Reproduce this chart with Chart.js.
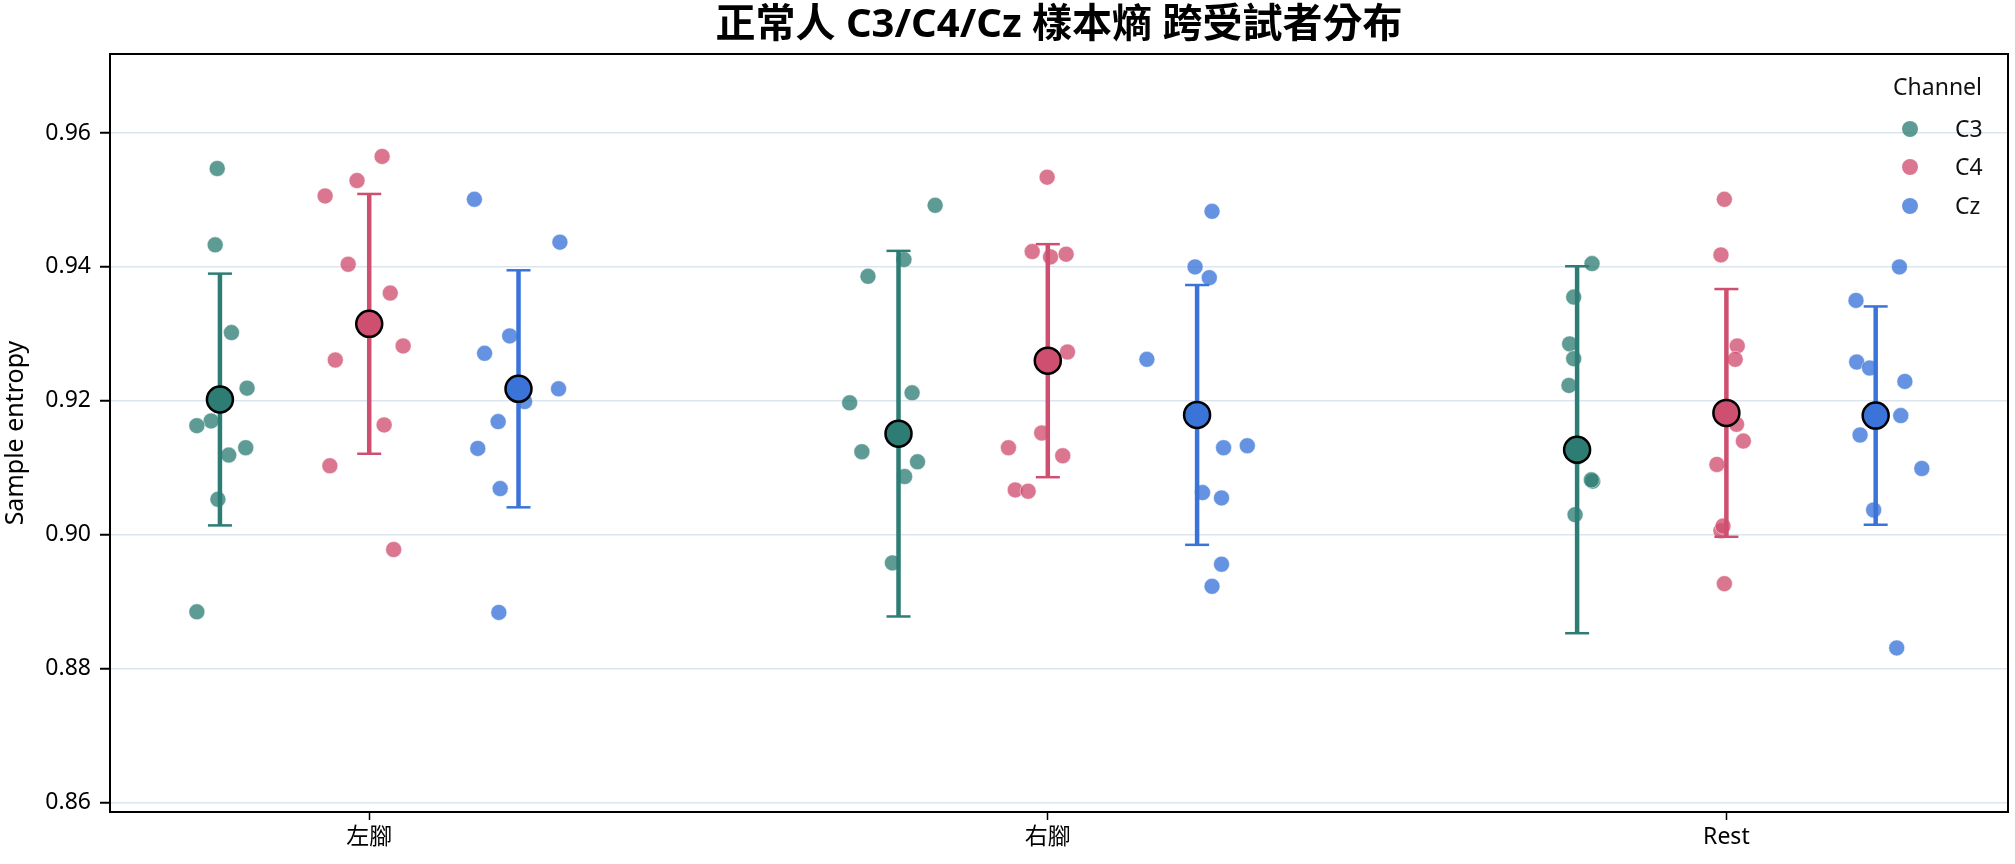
<!DOCTYPE HTML>
<html>
<head>
  <meta charset="utf-8">
  <script src="https://cdn.jsdelivr.net/npm/chart.js"></script>
  <style>
    html, body { margin: 0; padding: 0; background: #fff; overflow: hidden; }
    canvas { display: block; }
  </style>
  <script>
    // Categories and channels
    const categories = ['左腳', '右腳', 'Rest'];
    const channels = ['C3', 'C4', 'Cz'];

    // Per-subject sample entropy (one row per category)
    const c3Values = [
      [0.9547, 0.9433, 0.9302, 0.9219, 0.9170, 0.9163, 0.9130, 0.9119, 0.9053, 0.8885],
      [0.9492, 0.9411, 0.9386, 0.9212, 0.9197, 0.9124, 0.9109, 0.9087, 0.8958, 0.8530],
      [0.9405, 0.9355, 0.9285, 0.9263, 0.9223, 0.9116, 0.9080, 0.9082, 0.9030, 0.8433]
    ];
    const c4Values = [
      [0.9565, 0.9529, 0.9506, 0.9404, 0.9361, 0.9282, 0.9261, 0.9164, 0.9103, 0.8978],
      [0.9534, 0.9423, 0.9415, 0.9419, 0.9273, 0.9152, 0.9130, 0.9118, 0.9067, 0.9065],
      [0.9501, 0.9418, 0.9282, 0.9262, 0.9165, 0.9140, 0.9105, 0.9006, 0.9013, 0.8927]
    ];
    const czValues = [
      [0.9501, 0.9437, 0.9297, 0.9271, 0.9218, 0.9199, 0.9169, 0.9129, 0.9069, 0.8884],
      [0.9483, 0.9400, 0.9384, 0.9262, 0.9130, 0.9133, 0.9063, 0.9055, 0.8956, 0.8923],
      [0.9400, 0.9350, 0.9258, 0.9249, 0.9229, 0.9178, 0.9149, 0.9099, 0.9037, 0.8831]
    ];

    // Strip jitter of each subject (category units)
    const c3Jitter = [
      [-0.004, -0.007, 0.017, 0.040, -0.013, -0.034, 0.038, 0.013, -0.003, -0.034],
      [0.054, 0.008, -0.045, 0.020, -0.072, -0.054, 0.028, 0.009, -0.009, 0.000],
      [0.022, -0.005, -0.011, -0.005, -0.012, 0.000, 0.023, 0.021, -0.003, 0.000]
    ];
    const c4Jitter = [
      [0.019, -0.018, -0.065, -0.031, 0.031, 0.050, -0.050, 0.022, -0.058, 0.036],
      [-0.001, -0.023, 0.004, 0.027, 0.029, -0.009, -0.058, 0.022, -0.048, -0.029],
      [-0.003, -0.008, 0.016, 0.013, 0.015, 0.025, -0.014, -0.008, -0.005, -0.003]
    ];
    const czJitter = [
      [-0.065, 0.061, -0.013, -0.050, 0.059, 0.009, -0.030, -0.060, -0.027, -0.029],
      [0.022, -0.003, 0.018, -0.074, 0.039, 0.074, 0.008, 0.036, 0.036, 0.022],
      [0.035, -0.029, -0.028, -0.009, 0.043, 0.037, -0.023, 0.068, -0.003, 0.031]
    ];

    // Mean and SD per category
    const c3Mean = [0.9202, 0.9151, 0.9127];
    const c3Sd = [0.0188, 0.0273, 0.0274];
    const c4Mean = [0.9315, 0.9260, 0.9182];
    const c4Sd = [0.0194, 0.0174, 0.0185];
    const czMean = [0.9218, 0.9179, 0.9178];
    const czSd = [0.0177, 0.0194, 0.0163];

    const yTicks = [0.86, 0.88, 0.90, 0.92, 0.94, 0.96];

    const FONT = "'Noto Sans', 'Noto Sans CJK TC', sans-serif";
    const dodge = 0.22;
    const lineColors = ['#2e7d74', '#cf4f70', '#3b74d9'];
    const dotColors = ['rgba(46,125,116,0.77)', 'rgba(207,79,112,0.78)', 'rgba(59,116,217,0.78)'];

    function buildDatasets() {
      const values = [c3Values, c4Values, czValues];
      const jitter = [c3Jitter, c4Jitter, czJitter];
      const means = [c3Mean, c4Mean, czMean];
      const sds = [c3Sd, c4Sd, czSd];
      const sets = [];

      channels.forEach((ch, i) => {
        const off = (i - 1) * dodge;
        const pts = [], bars = [], caps = [], mids = [];
        categories.forEach((c, k) => {
          const cx = k + off;
          values[i][k].forEach((v, j) => pts.push({x: cx + jitter[i][k][j], y: v}));
          const lo = means[i][k] - sds[i][k], hi = means[i][k] + sds[i][k];
          bars.push({x: cx, y: lo}, {x: cx, y: hi}, {x: cx, y: null});
          caps.push({x: cx, y: lo}, {x: cx, y: hi});
          mids.push({x: cx, y: means[i][k]});
        });

        sets.push({
          label: ch, data: pts, order: 3,
          pointRadius: 8, backgroundColor: dotColors[i],
          borderColor: 'rgba(255,255,255,0.8)', borderWidth: 0.6, clip: 0
        });
        sets.push({
          label: ch + ' sd', data: bars, order: 2, showLine: true, spanGaps: false,
          pointRadius: 0, borderColor: lineColors[i], borderWidth: 4.5, clip: 0
        });
        sets.push({
          label: ch + ' cap', data: caps, order: 2, pointStyle: 'line',
          pointRadius: 12, borderColor: lineColors[i], borderWidth: 2.5, clip: 0
        });
        sets.push({
          label: ch + ' mean', data: mids, order: 1,
          pointRadius: 13, backgroundColor: lineColors[i],
          borderColor: '#000', borderWidth: 2.5, clip: 0
        });
      });
      return sets;
    }

    // Frame around plot area and the channel legend
    const framePlugin = {
      id: 'frame',
      afterDraw(chart) {
        const ctx = chart.ctx, a = chart.chartArea;
        ctx.save();
        ctx.strokeStyle = '#000';
        ctx.lineWidth = 2;
        ctx.strokeRect(a.left, a.top, a.right - a.left, a.bottom - a.top);

        // legend
        ctx.fillStyle = '#111';
        ctx.font = '23px ' + FONT;
        ctx.textBaseline = 'middle';
        ctx.textAlign = 'right';
        ctx.fillText('Channel', a.right - 26, a.top + 34);
        ctx.textAlign = 'left';
        const rows = [75, 113, 152];
        channels.forEach((ch, i) => {
          ctx.beginPath();
          ctx.arc(a.right - 98, a.top + rows[i], 8, 0, Math.PI * 2);
          ctx.fillStyle = dotColors[i];
          ctx.fill();
          ctx.fillStyle = '#111';
          ctx.fillText(ch, a.right - 53, a.top + rows[i] + 1);
        });
        ctx.restore();
      }
    };

    window.onload = function() {
      const ctx = document.getElementById('myChart').getContext('2d');
      new Chart(ctx, {
        type: 'scatter',
        data: { datasets: buildDatasets() },
        options: {
          responsive: false,
          animation: false,
          layout: { autoPadding: false, padding: { left: 0, right: 7, top: 0, bottom: 0 } },
          plugins: {
            legend: { display: false },
            tooltip: { enabled: false },
            title: {
              display: true,
              fullSize: false,
              text: '正常人 C3/C4/Cz 樣本熵 跨受試者分布',
              color: '#000',
              font: { family: FONT, size: 40, weight: 'bold', lineHeight: 1.2 },
              padding: { top: 2, bottom: 4 }
            }
          },
          scales: {
            x: {
              type: 'linear',
              min: -0.382,
              max: 2.415,
              afterBuildTicks: axis => { axis.ticks = categories.map((c, k) => ({value: k})); },
              afterFit: scale => {
                scale.height = 52;
                scale.paddingLeft = 0;
                scale.paddingRight = 0;
              },
              ticks: {
                callback: v => categories[v],
                color: '#000',
                padding: 4,
                maxRotation: 0,
                font: { family: FONT, size: 23 }
              },
              grid: {
                drawOnChartArea: false,
                tickColor: '#000',
                tickLength: 8,
                tickWidth: 1.5
              },
              border: { display: false }
            },
            y: {
              min: 0.8586,
              max: 0.9718,
              afterBuildTicks: axis => { axis.ticks = yTicks.map(v => ({value: v})); },
              afterFit: scale => { scale.width = 110; },
              ticks: {
                callback: v => v.toFixed(2),
                color: '#000',
                padding: 9,
                font: { family: FONT, size: 23 }
              },
              grid: {
                color: '#dce5ee',
                lineWidth: 1.5,
                tickColor: '#000',
                tickLength: 10,
                tickWidth: 2
              },
              border: { display: false },
              title: {
                display: true,
                text: 'Sample entropy',
                color: '#000',
                padding: { top: 1, bottom: 0 },
                font: { family: FONT, size: 25 }
              }
            }
          }
        },
        plugins: [framePlugin]
      });
    };
  </script>
</head>
<body>
  <canvas id="myChart" width="2015" height="864"></canvas>
</body>
</html>
